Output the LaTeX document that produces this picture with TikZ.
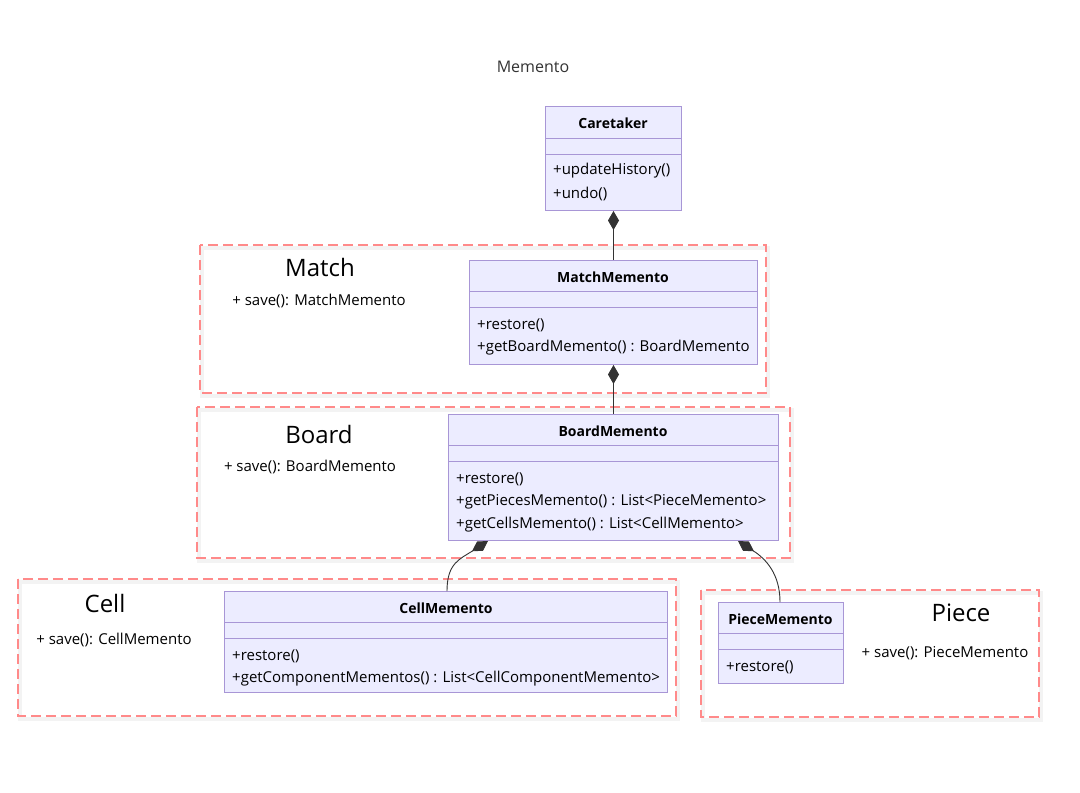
\documentclass[tikz,border=0pt]{standalone}
\usepackage{fontspec}
\setmainfont{Open Sans}
\usetikzlibrary{arrows.meta}
\definecolor{boxfill}{HTML}{ECECFF}
\definecolor{boxline}{HTML}{A896D6}
\definecolor{clus}{HTML}{FF8A8A}
\definecolor{ink}{HTML}{333333}
\begin{document}
\begin{tikzpicture}[x=1pt,y=-1pt,
  cls/.style={draw=boxline, fill=boxfill, line width=1pt, inner sep=0pt, anchor=north west},
  div/.style={draw=boxline, line width=1pt},
  ctitle/.style={font=\fontsize{14}{16}\selectfont\bfseries, text=black, inner sep=0pt},
  member/.style={font=\fontsize{15}{17}\selectfont, text=black, anchor=west, inner sep=0pt},
  clabel/.style={font=\fontsize{24}{27}\selectfont, text=black, inner sep=0pt},
  csave/.style={font=\fontsize{15}{17}\selectfont, text=black, inner sep=0pt},
  cluster/.style={draw=clus, line width=2.8pt, dash pattern=on 10pt off 5pt},
  cshadow/.style={draw=black!30, line width=4pt, opacity=0.15},
  comp/.style={draw=ink, line width=0.9pt, {Diamond[length=19pt,width=11pt,fill=ink]}-}
]
\useasboundingbox (0,0) rectangle (1080,793);
\fill[white] (0,0) rectangle (1080,793);

% title
\node[font=\fontsize{16}{18}\selectfont, text=ink] (title) at (533,67) {Memento};

% cluster frames (shadow then dashed)
\foreach \a/\b/\c/\d in {200/245/766/393, 197/407/790/558, 18/579/676/716, 701/590/1039/717}{
  \draw[cshadow] (\a+2,\b+3) rectangle (\c+2,\d+3);
  \draw[cluster] (\a,\b) rectangle (\c,\d);
}

% Caretaker
\node[cls, minimum width=136pt, minimum height=104pt] (care) at (545,106) {};
\draw[div] (545,138) -- (681,138);
\draw[div] (545,154) -- (681,154);
\node[ctitle] (careT) at (613,123) {Caretaker};
\node[member] (careM1) at (553,171) {+updateHistory()};
\node[member] (careM2) at (553,194) {+undo()};

% Match
\node[clabel] (matchL) at (320,267) {Match};
\node[csave] (matchS) at (319,301) {+ save(): MatchMemento};
\node[cls, minimum width=288pt, minimum height=104pt] (mm) at (469,260) {};
\draw[div] (469,291) -- (757,291);
\draw[div] (469,307) -- (757,307);
\node[ctitle] (mmT) at (613,277) {MatchMemento};
\node[member] (mmM1) at (477,325) {+restore()};
\node[member] (mmM2) at (477,348) {+getBoardMemento() : BoardMemento};

% Board
\node[clabel] (boardL) at (319,434) {Board};
\node[csave] (boardS) at (310,467) {+ save(): BoardMemento};
\node[cls, minimum width=330pt, minimum height=126pt] (bm) at (448,414) {};
\draw[div] (448,445) -- (778,445);
\draw[div] (448,461) -- (778,461);
\node[ctitle] (bmT) at (613,431) {BoardMemento};
\node[member] (bmM1) at (456,479) {+restore()};
\node[member] (bmM2) at (456,502) {+getPiecesMemento() : List<PieceMemento>};
\node[member] (bmM3) at (456,525) {+getCellsMemento() : List<CellMemento>};

% Cell
\node[clabel] (cellL) at (105,603) {Cell};
\node[csave] (cellS) at (114,640) {+ save(): CellMemento};
\node[cls, minimum width=443pt, minimum height=101pt] (cm) at (224,591) {};
\draw[div] (224,622) -- (667,622);
\draw[div] (224,638) -- (667,638);
\node[ctitle] (cmT) at (446,608) {CellMemento};
\node[member] (cmM1) at (232,656) {+restore()};
\node[member] (cmM2) at (232,679) {+getComponentMementos() : List<CellComponentMemento>};

% Piece
\node[clabel] (pieceL) at (961,613) {Piece};
\node[csave] (pieceS) at (945,653) {+ save(): PieceMemento};
\node[cls, minimum width=125pt, minimum height=81pt] (pm) at (718,602) {};
\draw[div] (718,633) -- (843,633);
\draw[div] (718,649) -- (843,649);
\node[ctitle] (pmT) at (780.5,619) {PieceMemento};
\node[member] (pmM1) at (726,667) {+restore()};

% connectors
\draw[comp] (care.south) -- (mm.north);
\draw[comp] (mm.south) -- (bm.south |- bm.north);
\draw[comp] ([xshift=40pt]bm.south west) .. controls +(-28,18) and +(0,-28) .. ([xshift=223pt]cm.north west);
\draw[comp] ([xshift=290pt]bm.south west) .. controls +(28,18) and +(0,-28) .. ([xshift=62pt]pm.north west);
\end{tikzpicture}
\end{document}
